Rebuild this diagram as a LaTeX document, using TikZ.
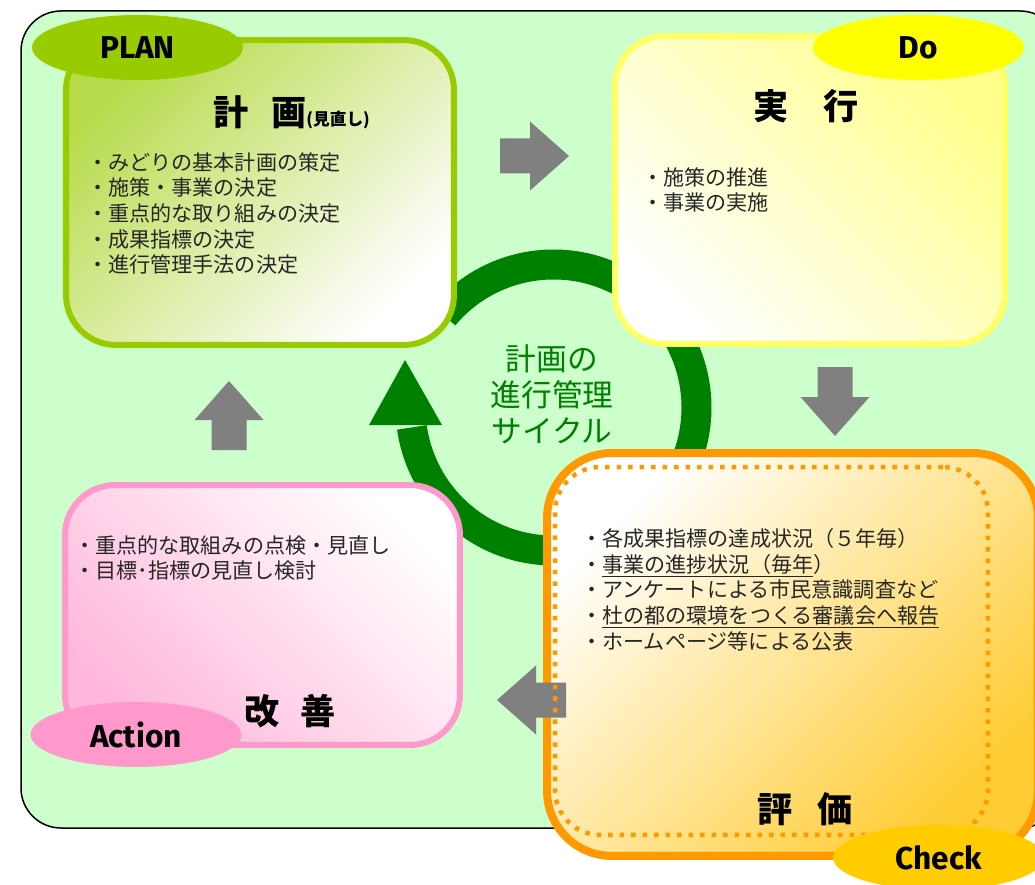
\documentclass[tikz,border=0pt]{standalone}
\usepackage{fontspec}
\usepackage{tikz}
\usetikzlibrary{shapes.geometric}
\newfontfamily\jpfont{Noto Sans CJK JP}
\newfontfamily\popfont{Fira Sans}
\definecolor{bgGreen}  {RGB}{204,255,204}
\definecolor{planGreen}{RGB}{153,204,  0}
\definecolor{doYellow} {RGB}{255,255,102}
\definecolor{doTag}    {RGB}{255,255,  0}
\definecolor{chkOrange}{RGB}{255,153,  0}
\definecolor{chkTag}   {RGB}{255,204,  0}
\definecolor{chkFill}  {RGB}{255,204, 51}
\definecolor{actPink}  {RGB}{255,153,204}
\definecolor{cycGreen} {RGB}{0,  128,  0}
\definecolor{arrGray}  {RGB}{128,128,128}

\begin{document}
\begin{tikzpicture}[x=0.02cm,y=-0.02cm,
          frame/.style={draw=black,line width=0.03cm,fill=bgGreen,
                        rounded corners=0.8cm},
          box/.style={rectangle,rounded corners=1cm,line width=0.12cm,
                      inner sep=0},
          tag/.style={ellipse,inner sep=0,minimum width=4.22cm,
                      minimum height=1.3cm,
                      font=\popfont\bfseries\fontsize{18}{18}\selectfont},
          ttl/.style={inner sep=0,
                      font=\jpfont\bfseries\fontsize{20}{24}\selectfont},
          lst/.style={anchor=north west,inner sep=0,align=left,
                      text=black!85,
                      font=\jpfont\fontsize{12}{14.6}\selectfont},
        ]
        \useasboundingbox (0,0) rectangle (1035,885);
        \clip (0,0) rectangle (1035,885);
        \draw[frame] (21,11) rectangle (1060,828);

        % cycle ring
        \coordinate (hub) at (553.5,407.5);
        \draw[cycGreen,line width=0.6cm] ([shift={(-140:143)}]hub)
             arc[start angle=-140,end angle=172,radius=143];
        \fill[cycGreen] (369,425) -- (442,425) -- (405,360) -- cycle;

        % boxes
        \node[box,draw=planGreen,top color=planGreen!70!white,
              bottom color=white,shading angle=45,
              minimum width=7.76cm,minimum height=6.1cm] (plan) at (260,192.5){};
        \node[box,draw=doYellow,top color=doYellow!75!white,
              bottom color=white,shading angle=-45,
              minimum width=7.8cm,minimum height=6.16cm] (do) at (810,190){};
        \node[box,draw=actPink,top color=white,
              bottom color=actPink!70!white,shading angle=-45,
              minimum width=7.9cm,minimum height=5.2cm] (act) at (262.5,615){};
        \node[box,draw=chkOrange,line width=0.16cm,rounded corners=1.3cm,
              top color=white,bottom color=chkFill,shading angle=45,
              minimum width=9.82cm,minimum height=8.06cm] (chk) at (792.5,654.5){};

        \foreach \x/\y/\r in {500/156/0,835/367/-90,566/700/180,229/450/90}{
          \fill[arrGray,shift={(\x,\y)},rotate=\r]
            (0,-17.5) -- (30,-17.5) -- (30,-34.5) -- (69,0)
            -- (30,34.5) -- (30,17.5) -- (0,17.5) -- cycle;
        }

        \node[rectangle,draw=chkOrange,line width=0.09cm,
              dash pattern=on 0.09cm off 0.14cm,rounded corners=0.9cm,
              inner sep=0,minimum width=8.66cm,minimum height=7.36cm]
              (chkin) at (771.5,651){};

        \node[tag,fill=planGreen] (plantag) at (137.5,47.5){PLAN};
        \node[tag,fill=doTag]     (dotag)   at (918.5,47.5){Do};
        \node[tag,fill=chkTag]    (chktag)  at (938.5,857.5){Check};
        \node[tag,fill=actPink]   (acttag)  at (136,734.5){Action};

        \node[ttl,anchor=west] (plantitle) at (213,112)
             {計\hspace{0.65em}画{\fontsize{9.5}{10}\selectfont (見直し)}};
        \node[ttl] (dotitle)  at (806,106){実\hspace{1em}行};
        \node[ttl] (chktitle) at (805,809){評\hspace{0.7em}価};
        \node[ttl] (acttitle) at (290,711){改\hspace{0.6em}善};

        \node[lst] (planlist) at (87,152){・みどりの基本計画の策定\\
             ・施策・事業の決定\\・重点的な取り組みの決定\\
             ・成果指標の決定\\・進行管理手法の決定};
        \node[lst] (dolist) at (642,167){・施策の推進\\・事業の実施};
        \node[lst] (chklist) at (581,528){・各成果指標の達成状況（５年毎）\\
             ・\underline{事業の進捗状況（毎年}）\\
             ・アンケートによる市民意識調査など\\
             ・\underline{杜の都の環境をつくる審議会へ報告}\\
             ・ホームページ等による公表};
        \node[lst] (actlist) at (74,535){・重点的な取組みの点検・見直し\\
             ・目標･指標の見直し検討};

        \node[align=center,text=cycGreen,
              font=\jpfont\fontsize{17.5}{20.5}\selectfont]
             (cyclabel) at (552,394){計画の\\進行管理\\サイクル};
      \end{tikzpicture}
\end{document}
